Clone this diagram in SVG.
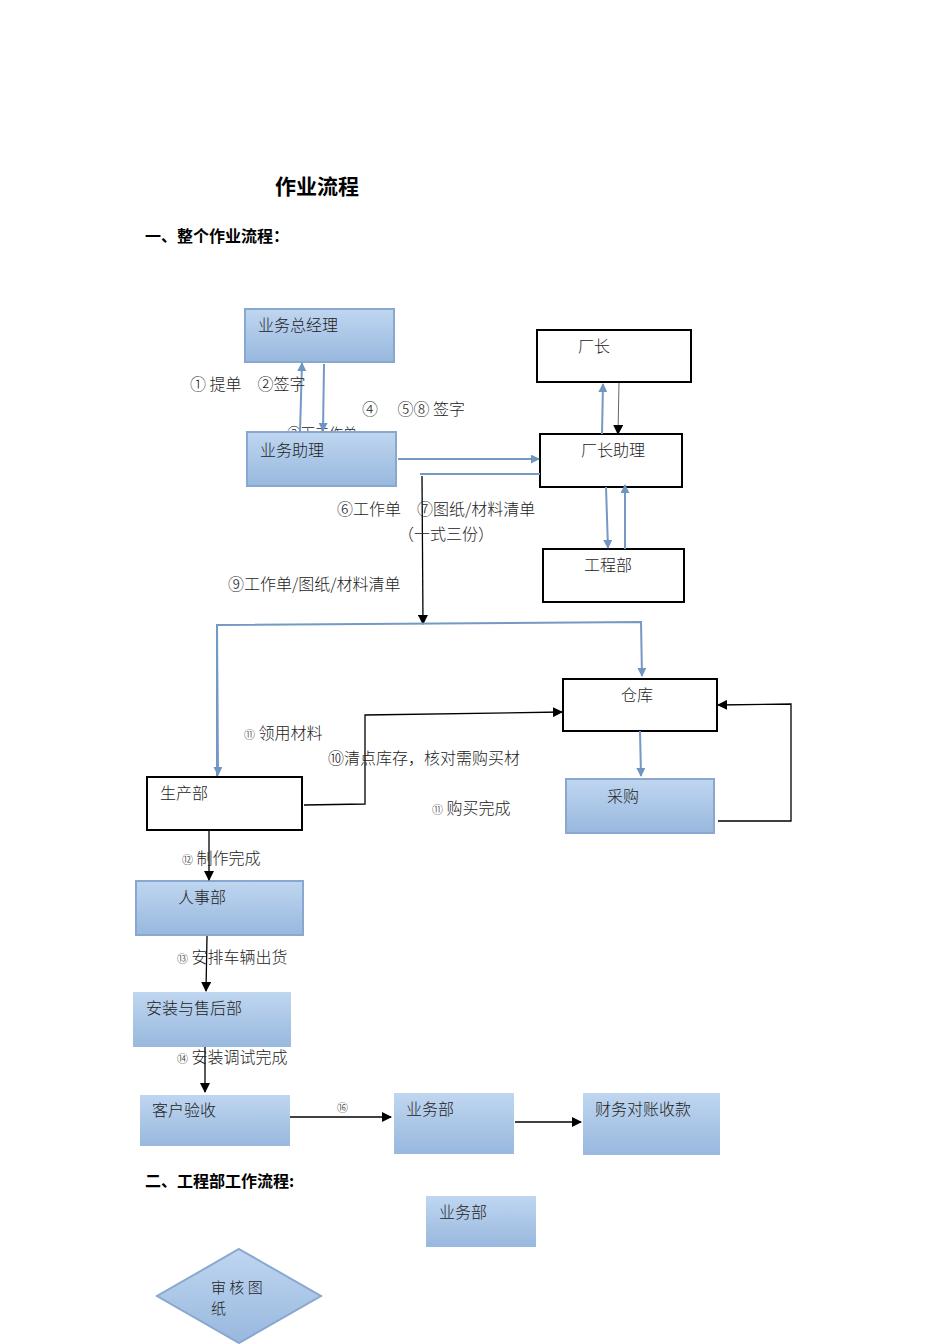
<svg xmlns="http://www.w3.org/2000/svg" width="950" height="1344" viewBox="0 0 950 1344">
<defs>
<linearGradient id="bg" x1="0" y1="0" x2="0" y2="1">
<stop offset="0" stop-color="#bfd6f0"/>
<stop offset="1" stop-color="#98b8de"/>
</linearGradient>
<marker id="ab" viewBox="0 0 10 10" refX="9" refY="5" markerWidth="9" markerHeight="9" markerUnits="userSpaceOnUse" orient="auto"><path d="M0,0 L10,5 L0,10 z" fill="#6f95c0"/></marker>
<marker id="ak" viewBox="0 0 10 10" refX="9" refY="5" markerWidth="10" markerHeight="10" markerUnits="userSpaceOnUse" orient="auto"><path d="M0,0 L10,5 L0,10 z" fill="#000"/></marker>
</defs>
<style>
text{font-family:"Noto Sans CJK SC","Liberation Serif",serif;font-size:16px;fill:#222;font-weight:300}
.h{font-weight:700;fill:#000}
.bl{fill:url(#bg);stroke:#8aa8cf;stroke-width:2}
.bn{fill:url(#bg);stroke:none}
.wk{fill:#fff;stroke:#000;stroke-width:2}
.cb{fill:none;stroke:#7399c4;stroke-width:2}
.ck{fill:none;stroke:#000;stroke-width:1.3}
.sm{font-size:11px}
</style>
<text class="h" x="275" y="194" style="font-size:21px">作业流程</text>
<text class="h" x="145" y="242" style="font-size:16px">一、整个作业流程：</text>
<text x="287" y="438" style="font-size:14px">③下工作单</text>
<g id="n-zjl"><rect class="bl" x="245" y="309" width="149" height="53"/><text x="258" y="331">业务总经理</text></g>
<g id="n-zl"><rect class="bl" x="247" y="432" width="149" height="54"/><text x="260" y="456">业务助理</text></g>
<g id="n-cz"><rect class="wk" x="537" y="330" width="154" height="52"/><text x="578" y="352">厂长</text></g>
<g id="n-czzl"><rect class="wk" x="540" y="434" width="142" height="53"/><text x="581" y="456">厂长助理</text></g>
<g id="n-gcb"><rect class="wk" x="543" y="549" width="141" height="53"/><text x="584" y="571">工程部</text></g>
<g id="n-ck"><rect class="wk" x="563" y="679" width="154" height="52"/><text x="621" y="701">仓库</text></g>
<g id="n-cg"><rect class="bl" x="566" y="779" width="148" height="54"/><text x="607" y="802">采购</text></g>
<g id="n-scb"><rect class="wk" x="147" y="777" width="155" height="53"/><text x="160" y="799">生产部</text></g>
<g id="n-rsb"><rect class="bl" x="136" y="881" width="167" height="54"/><text x="178" y="903">人事部</text></g>
<g id="n-az"><rect class="bn" x="133" y="992" width="158" height="55"/><text x="146" y="1014">安装与售后部</text></g>
<g id="n-kh"><rect class="bn" x="140" y="1095" width="150" height="51"/><text x="152" y="1116">客户验收</text></g>
<g id="n-ywb"><rect class="bn" x="394" y="1093" width="120" height="61"/><text x="406" y="1115">业务部</text></g>
<g id="n-cw"><rect class="bn" x="583" y="1093" width="137" height="62"/><text x="595" y="1115">财务对账收款</text></g>
<text class="h" x="145" y="1187" style="font-size:16px">二、工程部工作流程:</text>
<g id="n-ywb2"><rect class="bn" x="426" y="1196" width="110" height="51"/><text x="439" y="1218">业务部</text></g>
<g id="n-sh"><polygon class="bl" points="239,1249 321,1296 239,1343 157,1296"/><text x="211" y="1293" style="font-size:15px">审 核 图</text><text x="211" y="1314" style="font-size:15px">纸</text></g>
<g id="connectors">
<path class="cb" d="M300,432 L302,363" marker-end="url(#ab)"/>
<path class="cb" d="M324,364 L323,431" marker-end="url(#ab)"/>
<path class="cb" d="M398,459 L539,459" marker-end="url(#ab)"/>
<path class="cb" d="M540,474 L420,474"/>
<path class="ck" d="M422,476 L423,624" marker-end="url(#ak)"/>
<path class="cb" d="M217,776 L217,625 L641,622 L642,676" marker-end="url(#ab)"/>
<path class="cb" d="M217,625 L218,775" marker-end="url(#ab)"/>
<path class="cb" d="M602,434 L603,384" marker-end="url(#ab)"/>
<path class="ck" d="M619,383 L618,434" style="stroke:#666;stroke-width:1" marker-end="url(#ak)"/>
<path class="cb" d="M606,487 L608,548" marker-end="url(#ab)"/>
<path class="cb" d="M625,549 L625,485" marker-end="url(#ab)"/>
<path class="cb" d="M640,731 L641,776" marker-end="url(#ab)"/>
<path class="ck" d="M304,805 L365,804 L365,715 L562,712" marker-end="url(#ak)"/>
<path class="ck" d="M718,821 L791,821 L791,704 L718,705" marker-end="url(#ak)"/>
<path class="ck" d="M209,831 L209,880" marker-end="url(#ak)"/>
<path class="ck" d="M207,936 L206,991" marker-end="url(#ak)"/>
<path class="ck" d="M205,1047 L205,1092" marker-end="url(#ak)"/>
<path class="ck" d="M290,1117 L391,1117" marker-end="url(#ak)"/>
<path class="ck" d="M515,1122 L581,1122" marker-end="url(#ak)"/>
</g>
<text x="190" y="390">① 提单　②签字</text>
<text x="362" y="415">④　 ⑤⑧ 签字</text>
<text x="337" y="515">⑥工作单　⑦图纸/材料清单</text>
<text x="398" y="540">（一式三份）</text>
<text x="228" y="590">⑨工作单/图纸/材料清单</text>
<text x="244" y="739"><tspan class="sm">⑪</tspan> 领用材料</text>
<text x="328" y="764">⑩清点库存，核对需购买材</text>
<text x="432" y="814"><tspan class="sm">⑪</tspan> 购买完成</text>
<text x="182" y="864"><tspan class="sm">⑫</tspan> 制作完成</text>
<text x="177" y="963"><tspan class="sm">⑬</tspan> 安排车辆出货</text>
<text x="177" y="1063"><tspan class="sm">⑭</tspan> 安装调试完成</text>
<text class="sm" x="337" y="1112">⑯</text>
</svg>
